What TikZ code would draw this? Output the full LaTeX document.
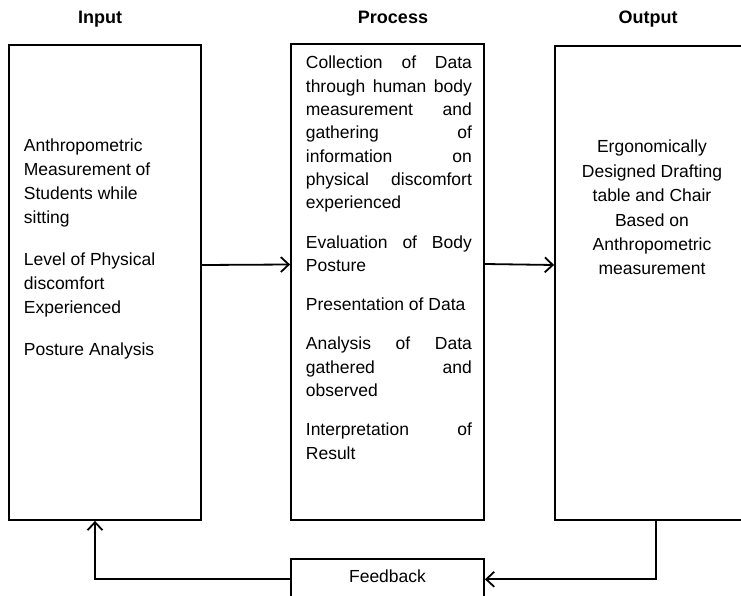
\documentclass[tikz,border=0pt]{standalone}
\usepackage{fontspec}
\setmainfont{Liberation Sans}
\usetikzlibrary{positioning,arrows.meta}

\begin{document}
\begin{tikzpicture}[x=1pt,y=-1pt,->,>={Straight Barb[length=8pt,width=15pt]},line width=1.8pt,
    box/.style={draw,rectangle,inner sep=0pt,line width=1.8pt},
    head/.style={font=\bfseries\fontsize{18}{21}\selectfont,anchor=base,inner sep=0pt},
    txt/.style={font=\fontsize{17.5}{23.5}\selectfont,inner sep=0pt}]

\useasboundingbox (0,0) rectangle (741,596);

\node[head] (inhead)   at (100,23.5) {Input};
\node[head] (prochead) at (393,23.5) {Process};
\node[head] (outhead)  at (648,23.5) {Output};

\node[box,minimum width=192pt,minimum height=475pt] (inbox)   at (105,282.5) {};
\node[box,minimum width=193pt,minimum height=476pt] (procbox) at (387.5,282) {};
\node[box,minimum width=194pt,minimum height=474pt] (outbox)  at (652,283) {};
\node[box,txt,minimum width=193pt,minimum height=41pt,text depth=7pt,below=37pt of procbox] (fbbox) {Feedback};

\node[txt,anchor=base west] (intext) at (23,152) {\parbox[t]{165pt}{\raggedright\fontsize{17.5}{23.8}\selectfont\setlength{\parskip}{18.5pt}%
Anthropometric\\ Measurement of\\ Students while\\ sitting\par
Level of Physical\\ discomfort\\ Experienced\par
Posture Analysis}};

\node[txt,anchor=base west] (proctext) at (305,69) {\parbox[t]{166pt}{\fontsize{17.5}{23.3}\selectfont\setlength{\parskip}{16pt}%
Collection\hfill of\hfill Data\\
through\hfill human\hfill body\\
measurement\hfill and\\
gathering\hfill of\\
information\hfill on\\
physical\hfill discomfort\\
experienced\par
Evaluation\hfill of\hfill Body\\
Posture\par
Presentation of Data\par
Analysis\hfill of\hfill Data\\
gathered\hfill and\\
observed\par
Interpretation\hfill of\\
Result}};

\node[txt,anchor=base] (outtext) at (652,153) {\parbox[t]{180pt}{\centering\fontsize{17.5}{24.4}\selectfont
Ergonomically\\ Designed Drafting\\ table and Chair\\ Based on\\ Anthropometric\\ measurement}};

\draw ([yshift=17.5pt]inbox.east) -- ([yshift=17.5pt]procbox.west);
\draw ([yshift=18pt]procbox.east) -- ([yshift=18pt]outbox.west);
\draw ([xshift=4pt]outbox.south) |- (fbbox.east);
\draw (fbbox.west) -| ([xshift=-10pt]inbox.south);

\end{tikzpicture}
\end{document}
